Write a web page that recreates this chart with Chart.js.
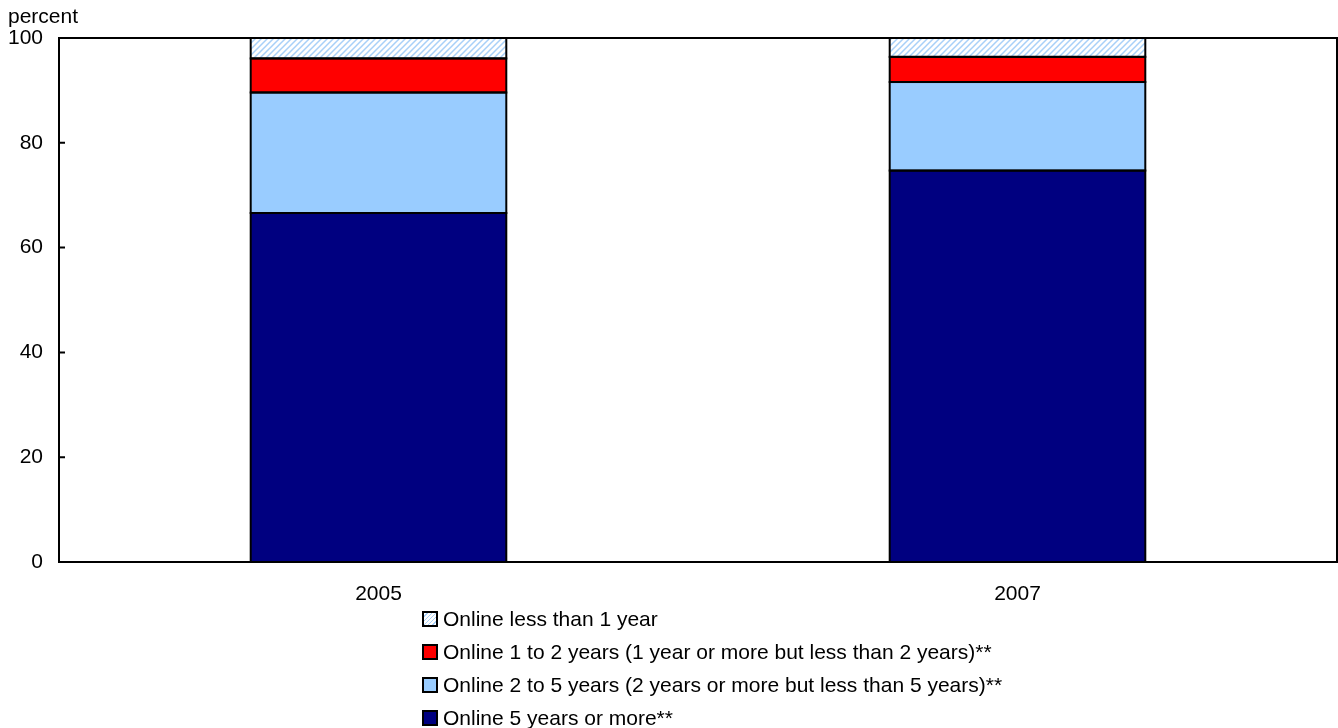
<!DOCTYPE html>
<html>
<head>
<meta charset="utf-8">
<script src="https://cdn.jsdelivr.net/npm/chart.js@4/dist/chart.umd.min.js"></script>
<style>
  html, body { margin: 0; padding: 0; background: #fff; }
  #wrap { position: relative; width: 1338px; height: 728px; font-family: "Liberation Sans", Arial, sans-serif; color: #000; }
  #unit { position: absolute; left: 8px; top: 3px; font-size: 21px; line-height: 26px; }
  #legend { position: absolute; left: 422px; top: 602px; font-size: 21px; }
  .row { display: flex; align-items: center; height: 33px; }
  .box { width: 12px; height: 12px; border: 2px solid #000; margin-right: 5px; }
</style>
</head>
<body>
<div id="wrap">
  <canvas id="chart" width="1338" height="728"></canvas>
  <div id="unit">percent</div>
  <div id="legend"></div>
</div>
<script>
// Internet users by length of time online, 2005 and 2007
const years = ['2005', '2007'];
const online5Plus   = [66.6, 74.7];
const online2to5    = [23.0, 16.9];
const online1to2    = [6.5, 4.8];
const onlineUnder1  = [3.9, 3.6];
const yTicks = [0, 20, 40, 60, 80, 100];

const seriesLabels = [
    'Online 5 years or more**',
    'Online 2 to 5 years (2 years or more but less than 5 years)**',
    'Online 1 to 2 years (1 year or more but less than 2 years)**',
    'Online less than 1 year'
];

function hatchPattern() {
    const c = document.createElement('canvas');
    c.width = 6; c.height = 6;
    const g = c.getContext('2d');
    g.fillStyle = '#fff';
    g.fillRect(0, 0, 6, 6);
    g.strokeStyle = '#a8d0f8';
    g.lineWidth = 1.5;
    g.beginPath();
    g.moveTo(0, 6); g.lineTo(6, 0);
    g.moveTo(-1, 1); g.lineTo(1, -1);
    g.moveTo(5, 7); g.lineTo(7, 5);
    g.stroke();
    return g.createPattern(c, 'repeat');
}

const fills = ['#000080', '#99ccff', '#ff0000', hatchPattern()];
const legendCss = ['#000080', '#99ccff', '#ff0000',
    'repeating-linear-gradient(135deg, #fff 0 2px, #a8d0f8 2px 3px)'];

// black outlines on bar segments, frame round plot area, inward y ticks
const framePlugin = {
    id: 'frame',
    afterDatasetsDraw(chart) {
        const { ctx, chartArea: a, scales } = chart;
        ctx.save();
        ctx.strokeStyle = '#000';
        ctx.lineWidth = 2;
        chart.data.datasets.forEach((ds, i) => {
            chart.getDatasetMeta(i).data.forEach(el => {
                const { x, y, base, width } = el.getProps(['x', 'y', 'base', 'width'], true);
                ctx.strokeRect(x - width / 2, y, width, base - y);
            });
        });
        ctx.strokeRect(a.left, a.top, a.right - a.left, a.bottom - a.top);
        ctx.beginPath();
        yTicks.forEach(v => {
            const y = scales.y.getPixelForValue(v);
            ctx.moveTo(a.left, y);
            ctx.lineTo(a.left + 6, y);
        });
        ctx.stroke();
        ctx.restore();
    }
};

const datasets = [online5Plus, online2to5, online1to2, onlineUnder1].map((d, i) => ({
    label: seriesLabels[i],
    data: d,
    backgroundColor: fills[i],
    borderWidth: 0,
    categoryPercentage: 1,
    barPercentage: 0.4
}));

new Chart(document.getElementById('chart'), {
    type: 'bar',
    data: { labels: years, datasets },
    options: {
        responsive: false,
        animation: false,
        layout: { padding: { top: 38, right: 1, left: 0, bottom: 0 } },
        plugins: { legend: { display: false }, tooltip: { enabled: false } },
        scales: {
            x: {
                stacked: true,
                grid: { display: false, drawTicks: false },
                border: { display: false },
                ticks: { color: '#000', padding: 20, font: { family: 'Liberation Sans', size: 21 } },
                afterFit: (s) => { s.height = 166; }
            },
            y: {
                stacked: true,
                min: 0, max: 100,
                afterBuildTicks: (s) => { s.ticks = yTicks.map(v => ({ value: v })); },
                grid: { display: false, drawTicks: false },
                border: { display: false },
                ticks: { color: '#000', padding: 16, font: { family: 'Liberation Sans', size: 21 } },
                afterFit: (s) => { s.width = 59; }
            }
        }
    },
    plugins: [framePlugin]
});

// legend, top segment first
const legend = document.getElementById('legend');
[3, 2, 1, 0].forEach(i => {
    const row = document.createElement('div');
    row.className = 'row';
    row.innerHTML = `<span class="box" style="background:${legendCss[i]}"></span><span>${seriesLabels[i]}</span>`;
    legend.appendChild(row);
});
</script>
</body>
</html>
